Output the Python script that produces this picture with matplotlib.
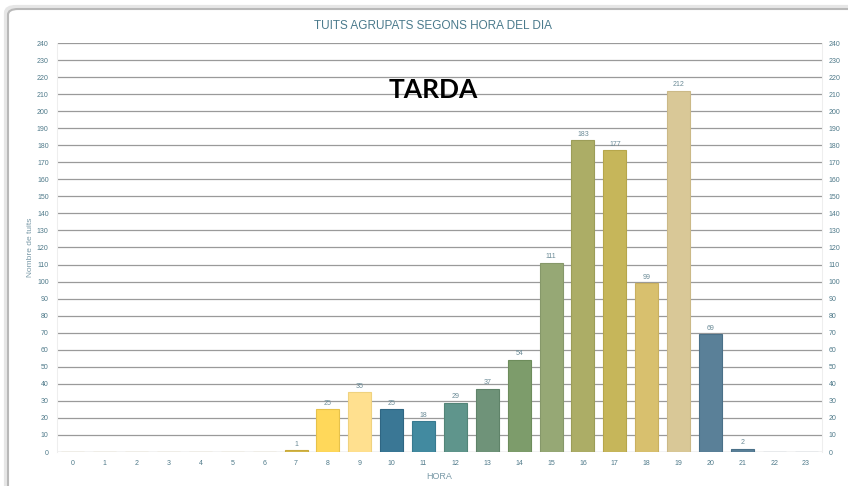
import matplotlib.pyplot as plt
from matplotlib.patches import FancyBboxPatch

plt.rcParams['font.family'] = ['Liberation Sans', 'DejaVu Sans']

hours = list(range(24))
tweets = [0, 0, 0, 0, 0, 0, 0, 1, 25, 35, 25, 18, 29, 37, 54, 111, 183, 177, 99, 212, 69, 2, 0, 0]
colors = ['#d4b84a'] * 7 + [
	'#d4b84a', '#ffd85a', '#ffe08f', '#3a7795', '#428aa0', '#5f958c', '#6f9379',
	'#7d9c6b', '#96a875', '#acad66', '#c6b65a', '#d8c06e', '#d9c897', '#5a8098',
	'#5a8098', '#5a8098', '#5a8098']
edge_colors = ['#c9a93a'] * 8 + ['#e6c24a', '#efd27f', '#2f6683', '#377a90', '#528578',
	'#5f8369', '#6d8c5b', '#86986a', '#9c9d58', '#b6a64b', '#c9b060', '#cbb987', '#4a7088',
	'#4a7088', '#4a7088', '#4a7088']
y_ticks = list(range(0, 250, 10))

title = "TUITS AGRUPATS SEGONS HORA DEL DIA"
text_col = '#4f7a8a'

fig = plt.figure(figsize=(8.48, 4.86), dpi=100)

# outer frame of the chart widget (cut off at right and bottom in the screenshot)
for off, col, lw in [(2, '#e6e6e6', 3), (0, '#b8b8b8', 1.5)]:
	frame = FancyBboxPatch(((8 - off) / 848, -20 / 486), 880 / 848, (486 - 9 + off + 20) / 486,
		boxstyle="round,pad=0,rounding_size=0.012", transform=fig.transFigure,
		facecolor='none', edgecolor=col, linewidth=lw, zorder=10)
	fig.patches.append(frame)

ax = fig.add_axes([57 / 848, 1 - 452 / 486, 765 / 848, 409 / 486])
ax.set_facecolor('none')

ax.bar(hours, tweets, width=0.72, color=colors, edgecolor=edge_colors, linewidth=0.8, zorder=3)
for h, v in zip(hours, tweets):
	if v > 0:
		ax.text(h, v + 1.5, str(v), ha='center', va='bottom', fontsize=5, color='#6a8a96', zorder=4)

ax.set_xlim(-0.5, 23.5)
ax.set_ylim(0, 240)
ax.set_xticks(hours)
ax.set_yticks(y_ticks)
ax.grid(axis='y', color='#9a9a9a', linewidth=0.9, zorder=1)
ax.set_axisbelow(True)
ax.tick_params(axis='both', length=0, labelsize=5, labelcolor=text_col, pad=6)
for s in ax.spines.values():
	s.set_visible(False)
ax.spines['left'].set_visible(True)
ax.spines['left'].set_color('#eeeeee')

ax2 = ax.twinx()
ax2.set_ylim(0, 240)
ax2.set_yticks(y_ticks)
ax2.tick_params(axis='y', length=0, labelsize=5, labelcolor=text_col, pad=5)
for s in ax2.spines.values():
	s.set_visible(False)
ax2.spines['right'].set_visible(True)
ax2.spines['right'].set_color('#eeeeee')

ax.set_xlabel("HORA", fontsize=6.5, color='#7a9aa8', labelpad=3)
ax.set_ylabel("Nombre de tuits", fontsize=6, color='#7a9aa8', labelpad=2)

fig.text(433 / 848, 1 - 26 / 486, title, ha='center', va='center', fontsize=8.5, color='#4a7a8c')
fig.text(433 / 848, 1 - 90 / 486, "TARDA", ha='center', va='center', fontsize=19,
	fontweight='bold', color='black', family=['Lato', 'DejaVu Sans'])

fig.savefig('out.png', dpi=100)
